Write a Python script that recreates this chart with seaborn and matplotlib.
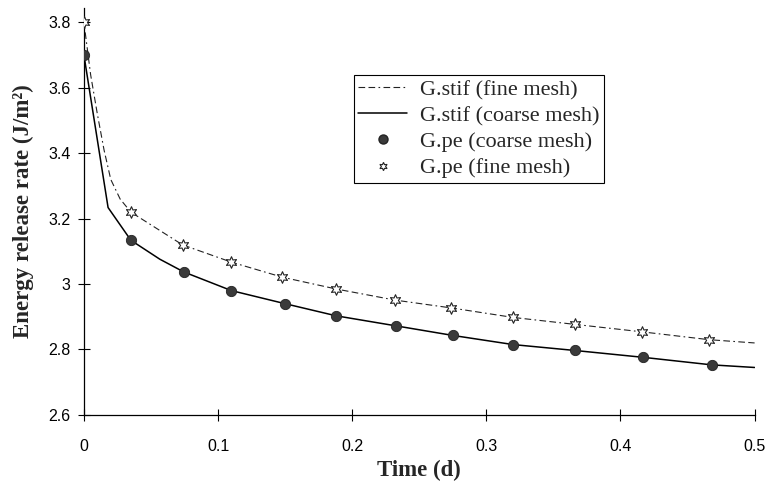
import numpy as np
import pandas as pd
import seaborn as sns
from matplotlib import pyplot as plt
from matplotlib.lines import Line2D

# G.stif curves (time in days, energy release rate in J/m^2)
t_stif_fine = [0, 0.005, 0.01, 0.015, 0.02, 0.027, 0.035, 0.0735, 0.11, 0.148, 0.188,
               0.232, 0.274, 0.32, 0.3655, 0.416, 0.466, 0.5]
g_stif_fine = [3.8, 3.64, 3.52, 3.41, 3.32, 3.26, 3.22, 3.12, 3.067, 3.021, 2.985,
               2.951, 2.927, 2.898, 2.877, 2.854, 2.830, 2.82]

t_stif_coarse = [0, 0.018, 0.035, 0.0566, 0.0745, 0.11, 0.15, 0.188, 0.233,
                 0.275, 0.32, 0.366, 0.417, 0.468, 0.5]
g_stif_coarse = [3.7, 3.234, 3.134, 3.076, 3.037, 2.98, 2.94, 2.903, 2.872,
                 2.843, 2.815, 2.797, 2.776, 2.753, 2.745]

# G.pe points
t_pe_coarse = [0, 0.035, 0.0745, 0.11, 0.15, 0.188, 0.233, 0.275, 0.32, 0.366, 0.417, 0.468]
g_pe_coarse = [3.7, 3.134, 3.037, 2.98, 2.94, 2.903, 2.872, 2.843, 2.815, 2.797, 2.776, 2.753]

t_pe_fine = [0, 0.035, 0.0735, 0.11, 0.148, 0.188, 0.232, 0.274, 0.32, 0.366, 0.416, 0.466]
g_pe_fine = [3.8, 3.22, 3.12, 3.067, 3.021, 2.985, 2.951, 2.927, 2.898, 2.877, 2.854, 2.830]

xticks = [0, 0.1, 0.2, 0.3, 0.4, 0.5]
xticklabels = ['0', '0.1', '0.2', '0.3', '0.4', '0.5']
yticks = [2.6, 2.8, 3.0, 3.2, 3.4, 3.6, 3.8]
yticklabels = ['2.6', '2.8', '3', '3.2', '3.4', '3.6', '3.8']

sns.set_style('white')
plt.rcParams['font.family'] = ['Liberation Sans', 'DejaVu Sans']

fig = plt.figure(figsize=(7.7, 4.83), dpi=100)
ax = fig.add_axes([0.109, 0.141, 0.871, 0.843])

df_fine = pd.DataFrame({'t': t_stif_fine, 'G': g_stif_fine})
df_coarse = pd.DataFrame({'t': t_stif_coarse, 'G': g_stif_coarse})
df_pc = pd.DataFrame({'t': t_pe_coarse, 'G': g_pe_coarse})
df_pf = pd.DataFrame({'t': t_pe_fine, 'G': g_pe_fine})

dash = (6, 3, 6, 3, 1.5, 3)
sns.lineplot(data=df_fine, x='t', y='G', ax=ax, color='#222222', lw=0.8, sort=False)
ax.lines[-1].set_dashes(dash)
sns.lineplot(data=df_coarse, x='t', y='G', ax=ax, color='black', lw=1.1, sort=False)
sns.scatterplot(data=df_pc, x='t', y='G', ax=ax, color='#3a3a3a', s=55,
                edgecolor='#222222', linewidth=0.6, zorder=3)
sns.scatterplot(data=df_pf, x='t', y='G', ax=ax, marker=(6, 1, 0), s=70,
                facecolor='white', edgecolor='#222222', linewidth=0.8, zorder=3)

ax.set_xlim(0, 0.5)
ax.set_ylim(2.6, 3.845)
ax.set_xticks(xticks)
ax.set_xticklabels(xticklabels)
ax.set_yticks(yticks)
ax.set_yticklabels(yticklabels)
ax.tick_params(axis='both', direction='inout', length=9, width=0.8,
               labelsize=11.5, colors='black', bottom=True, left=True)
ax.tick_params(axis='x', pad=13)
ax.tick_params(axis='y', pad=5)
for side in ['top', 'right']:
    ax.spines[side].set_visible(False)
for side in ['left', 'bottom']:
    ax.spines[side].set_color('black')
    ax.spines[side].set_linewidth(0.9)

serif = ['Liberation Serif', 'DejaVu Serif']
ax.set_xlabel('Time (d)', family=serif, fontweight='bold', fontsize=16.5, labelpad=4)
ax.set_ylabel('Energy release rate (J/m²)', family=serif, fontweight='bold',
              fontsize=16.5, labelpad=10)

handles = [
    Line2D([], [], color='#222222', lw=0.8, dashes=dash),
    Line2D([], [], color='black', lw=1.1),
    Line2D([], [], color='#3a3a3a', marker='o', ls='none', markersize=6.5,
           markeredgecolor='#222222'),
    Line2D([], [], color='#222222', marker=(6, 1, 0), ls='none', markersize=6,
           markerfacecolor='white', markeredgewidth=0.8),
]
labels = ['G.stif (fine mesh)', 'G.stif (coarse mesh)', 'G.pe (coarse mesh)', 'G.pe (fine mesh)']
leg = ax.legend(handles, labels, loc='upper left', bbox_to_anchor=(354 / 770, 1 - 75 / 483),
                bbox_transform=fig.transFigure, prop={'family': serif, 'size': 16},
                frameon=True, fancybox=False, edgecolor='black', framealpha=1,
                handlelength=2.2, handletextpad=0.55, labelspacing=0.25,
                borderpad=0.2, borderaxespad=0)
leg.get_frame().set_linewidth(0.8)

plt.savefig('out.png', dpi=100)
